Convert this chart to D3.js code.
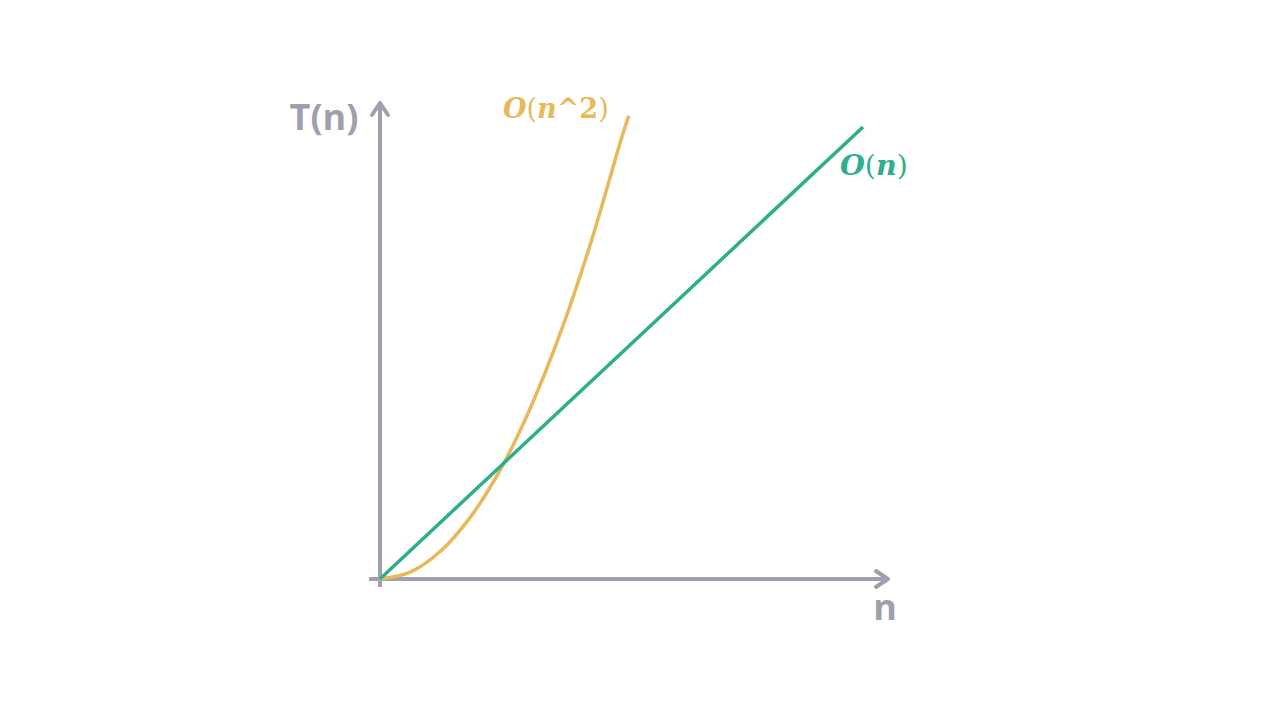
<!DOCTYPE html>
<html><head><meta charset="utf-8">
<script src="https://cdn.jsdelivr.net/npm/d3@7"></script>
<style>html,body{margin:0;padding:0;background:#fff;}</style>
</head><body>
<svg id="c" width="1280" height="720"></svg>
<script>
// Data
const linearN = [0, 8];
const linearT = [0, 8];
const quadN = [0, 0.5, 1, 1.5, 2, 2.5, 3, 3.5, 4, 4.12];
const quadT = [0, 0.12, 0.49, 1.1, 1.95, 3.05, 4.39, 5.98, 7.8, 8.2];
const axisLabels = ["T(n)", "n"];
const seriesLabels = ["O(n^2)", "O(n)"];

const svg = d3.select("#c");
const gray = "#a09fb0", orange = "#e8b85a", green = "#2eae8a";
const x = d3.scaleLinear().domain([0, 8]).range([380, 863]);
const y = d3.scaleLinear().domain([0, 8]).range([579, 127]);

// axes
svg.append("line").attr("x1", x(0)).attr("x2", x(0)).attr("y1", 587).attr("y2", 103)
  .attr("stroke", gray).attr("stroke-width", 4);
svg.append("line").attr("x1", 369).attr("x2", 888).attr("y1", y(0)).attr("y2", y(0))
  .attr("stroke", gray).attr("stroke-width", 4);
svg.append("path").attr("d", `M${x(0)-8},${115} L${x(0)},${103} L${x(0)+8},${115}`)
  .attr("fill", "none").attr("stroke", gray).attr("stroke-width", 4).attr("stroke-linecap", "round").attr("stroke-linejoin","round");
svg.append("path").attr("d", `M${876},${y(0)-8} L${888},${y(0)} L${876},${y(0)+8}`)
  .attr("fill", "none").attr("stroke", gray).attr("stroke-width", 4).attr("stroke-linecap", "round").attr("stroke-linejoin","round");

// series
svg.append("path").datum(quadN.map((n, i) => [n, quadT[i]]))
  .attr("d", d3.line().x(d => x(d[0])).y(d => y(d[1])).curve(d3.curveCatmullRom))
  .attr("fill", "none").attr("stroke", orange).attr("stroke-width", 3.5);
svg.append("path").datum(linearN.map((n, i) => [n, linearT[i]]))
  .attr("d", d3.line().x(d => x(d[0])).y(d => y(d[1]))).attr("fill", "none").attr("stroke", green).attr("stroke-width", 3.5);

// axis labels
svg.append("text").attr("x", 324).attr("y", 130).attr("text-anchor", "middle")
  .attr("font-family", "Open Sans").attr("font-weight", 700).attr("font-size", 36).attr("fill", gray).text(axisLabels[0]);
svg.append("text").attr("x", 885).attr("y", 620).attr("text-anchor", "middle")
  .attr("font-family", "Open Sans").attr("font-weight", 700).attr("font-size", 36).attr("fill", gray).text(axisLabels[1]);

// math labels
function mathLabel(txt, px, py, color, size) {
  const t = svg.append("text").attr("x", px).attr("y", py).attr("font-family", "DejaVu Serif")
    .attr("font-size", size).attr("fill", color);
  const m = txt.match(/^O\((.*)\)$/);
  const inner = m[1];
  t.append("tspan").attr("font-style", "italic").attr("font-weight", "bold").text("O");
  t.append("tspan").text("(");
  t.append("tspan").attr("font-style", "italic").attr("font-weight", "bold").text("n");
  if (inner.length > 1) t.append("tspan").attr("font-weight", "bold").text(inner.slice(1));
  t.append("tspan").text(")");
}
mathLabel(seriesLabels[0], 503, 118, orange, 27);
mathLabel(seriesLabels[1], 840, 175, green, 28.5);
</script>
</body></html>
